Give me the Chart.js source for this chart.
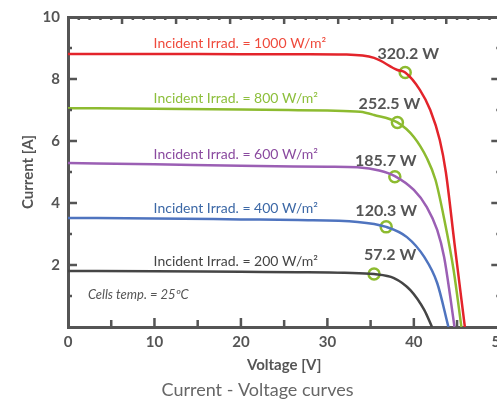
<!DOCTYPE html>
<html>
<head>
<meta charset="utf-8">
<script src="https://cdn.jsdelivr.net/npm/chart.js@4"></script>
<style>
  html, body { margin: 0; padding: 0; background: #fff; }
  #wrap { width: 497px; height: 402px; overflow: hidden; }
</style>
</head>
<body>
<div id="wrap"><canvas id="chart" width="515" height="402"></canvas></div>
<script>
// I-V curves (voltage in V, current in A)
const v1000 = [0, 10, 20, 28, 32, 35.4, 38.1, 39.0, 40.7, 41.9, 43.0, 43.7, 44.7, 45.9];
const i1000 = [8.81, 8.81, 8.8, 8.8, 8.79, 8.68, 8.29, 8.21, 7.65, 7.0, 6.03, 5.0, 2.7, 0];
const v800 = [0, 10, 20, 25.5, 30, 33.8, 35.4, 38.1, 40.0, 41.5, 42.5, 43.5, 44.6, 45.5];
const i800 = [7.06, 7.04, 7.02, 7.0, 6.98, 6.94, 6.84, 6.6, 6.13, 5.45, 4.75, 3.5, 1.84, 0];
const v600 = [0, 10, 20, 30, 33.5, 36.0, 37.8, 40.0, 41.5, 42.7, 43.5, 44.2, 44.7];
const i600 = [5.29, 5.25, 5.2, 5.17, 5.15, 5.05, 4.87, 4.42, 3.87, 3.13, 2.26, 1.0, 0];
const v400 = [0, 10, 20, 26.6, 33.5, 36.8, 39.2, 41.2, 42.7, 44.0];
const i400 = [3.52, 3.5, 3.47, 3.45, 3.39, 3.23, 2.9, 2.26, 1.42, 0];
const v200 = [0, 10, 20, 26.6, 32, 35.4, 37.7, 39.6, 41.2, 42.1];
const i200 = [1.81, 1.8, 1.78, 1.77, 1.75, 1.71, 1.58, 1.19, 0.55, 0];

const irradLabels = ["Incident Irrad. = 1000 W/m²", "Incident Irrad. = 800 W/m²", "Incident Irrad. = 600 W/m²", "Incident Irrad. = 400 W/m²", "Incident Irrad. = 200 W/m²"];

// maximum power points
const mppV = [39.0, 38.1, 37.8, 36.8, 35.4];
const mppI = [8.21, 6.6, 4.85, 3.23, 1.71];
const mppLabels = ["320.2 W", "252.5 W", "185.7 W", "120.3 W", "57.2 W"];

const xTicks = [0, 10, 20, 30, 40, 50];
const yTicks = [2, 4, 6, 8, 10];

const lineColors = ["#e3242b", "#8dbb30", "#9b5fb4", "#4f74bf", "#454545"];
const textColors = ["#ef4a3c", "#8dbf3c", "#8a4a9f", "#3c68a6", "#454545"];
const axisColor = "#555";

const curves = [[v1000, i1000], [v800, i800], [v600, i600], [v400, i400], [v200, i200]];

const datasets = curves.map((c, k) => ({
  data: c[0].map((v, j) => ({ x: v, y: c[1][j] })),
  borderColor: lineColors[k],
  borderWidth: 2.5,
  pointRadius: 0,
  cubicInterpolationMode: "monotone",
  fill: false
})).reverse();

datasets.push({
  data: mppV.map((v, j) => ({ x: v, y: mppI[j] })),
  showLine: false,
  pointRadius: 5.5,
  pointBorderWidth: 2.5,
  pointBorderColor: "#8dbb30",
  pointBackgroundColor: "#fff"
});

const font = "Lato, 'Noto Sans', sans-serif";

const decorations = {
  id: "decorations",
  afterDatasetsDraw(chart) {
    const ctx = chart.ctx;
    const { x, y, x2 } = chart.scales;
    const area = chart.chartArea;
    ctx.save();
    // inward tick marks
    ctx.strokeStyle = axisColor;
    ctx.lineWidth = 2.5;
    ctx.beginPath();
    for (let v = 1; v < 10; v++) {
      const py = y.getPixelForValue(v);
      const len = v % 2 === 0 ? 9 : 4;
      ctx.moveTo(area.left, py); ctx.lineTo(area.left + len, py);
      ctx.moveTo(area.right, py); ctx.lineTo(area.right - len, py);
    }
    for (let v = 5; v < 50; v += 5) {
      const px = x.getPixelForValue(v);
      const len = v % 10 === 0 ? 9 : 7;
      ctx.moveTo(px, area.bottom); ctx.lineTo(px, area.bottom - len);
    }
    for (let k = 1; k < 40; k++) {
      const px = x2.getPixelForValue(k * 0.2);
      const len = k % 5 === 0 ? 7 : 3;
      ctx.moveTo(px, area.top); ctx.lineTo(px, area.top + len);
    }
    ctx.stroke();

    // irradiance labels above each curve
    ctx.font = "14px " + font;
    ctx.textAlign = "left";
    ctx.textBaseline = "middle";
    curves.forEach((c, k) => {
      ctx.fillStyle = textColors[k];
      ctx.fillText(irradLabels[k], x.getPixelForValue(9.9), y.getPixelForValue(c[1][1]) - 10);
    });

    // power labels above the max power points
    const dx = [3, -8, -9, 0, 16];
    const dy = [-19, -19, -16, -16, -19];
    ctx.font = "bold 16px " + font;
    ctx.textAlign = "center";
    ctx.fillStyle = "#555";
    mppV.forEach((v, k) => {
      ctx.fillText(mppLabels[k], x.getPixelForValue(v) + dx[k], y.getPixelForValue(mppI[k]) + dy[k]);
    });

    ctx.font = "italic 13px " + font;
    ctx.textAlign = "left";
    ctx.fillStyle = "#555";
    ctx.fillText("Cells temp. = 25ºC", x.getPixelForValue(2.3), y.getPixelForValue(1.03));
    ctx.restore();
  }
};

new Chart(document.getElementById("chart"), {
  type: "line",
  data: { datasets: datasets },
  options: {
    responsive: false,
    animation: false,
    layout: { padding: 0 },
    plugins: {
      legend: { display: false },
      tooltip: { enabled: false },
      title: {
        display: true,
        position: "bottom",
        text: "Current - Voltage curves",
        color: "#666",
        font: { family: font, size: 18, weight: "normal" },
        padding: { top: 0, bottom: 1 }
      }
    },
    scales: {
      x: {
        type: "linear",
        position: "bottom",
        min: 0,
        max: 50,
        afterBuildTicks: s => { s.ticks = xTicks.map(v => ({ value: v })); },
        afterFit: s => { s.height = 52.4; },
        ticks: { color: axisColor, font: { family: font, size: 15, weight: "bold" }, padding: 6 },
        grid: { drawOnChartArea: false, drawTicks: false, color: "transparent" },
        border: { color: axisColor, width: 3 },
        title: { display: true, text: "Voltage [V]", color: axisColor, font: { family: font, size: 15, weight: "bold" }, padding: { top: 0, bottom: 5 } }
      },
      x2: {
        type: "linear",
        position: "top",
        min: 0,
        max: 8,
        afterFit: s => { s.height = 17; },
        ticks: { display: false },
        grid: { drawOnChartArea: false, drawTicks: false, color: "transparent" },
        border: { color: axisColor, width: 3 }
      },
      y: {
        position: "left",
        min: 0,
        max: 10,
        afterBuildTicks: s => { s.ticks = yTicks.map(v => ({ value: v })); },
        afterFit: s => { s.width = 68; },
        ticks: { color: axisColor, font: { family: font, size: 15, weight: "bold" }, padding: 8 },
        grid: { drawOnChartArea: false, drawTicks: false, color: "transparent" },
        border: { color: axisColor, width: 3 },
        title: { display: true, text: "Current [A]", color: axisColor, font: { family: font, size: 15, weight: "bold" }, padding: { top: 19, bottom: 0 } }
      },
      y2: {
        position: "right",
        min: 0,
        max: 10,
        afterFit: s => { s.width = 11; },
        ticks: { display: false },
        grid: { drawOnChartArea: false, drawTicks: false, color: "transparent" },
        border: { color: axisColor, width: 3 }
      }
    }
  },
  plugins: [decorations]
});
</script>
</body>
</html>
